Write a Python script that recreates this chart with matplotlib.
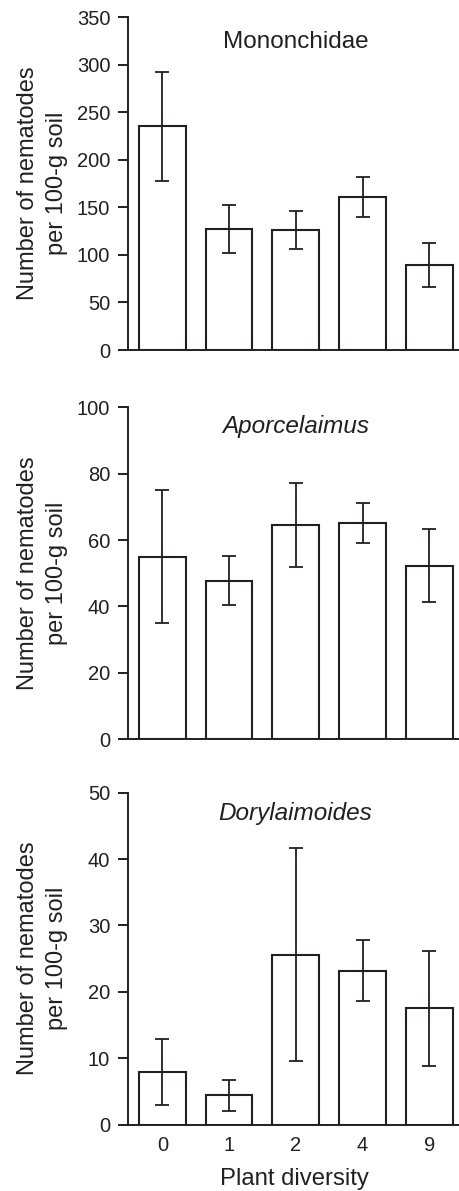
import numpy as np
import matplotlib
matplotlib.use("Agg")
from matplotlib import pyplot as plt

plt.rcParams['font.family'] = ['Liberation Sans', 'DejaVu Sans']

# plant diversity levels (x categories)
diversity = ["0", "1", "2", "4", "9"]

# mean counts and error bars
mono_mean = [235, 127, 126, 161, 89]
mono_err = [57, 25, 20, 21, 23]

apor_mean = [55, 47.8, 64.5, 65.2, 52.3]
apor_err = [20, 7.4, 12.6, 6, 11]

dory_mean = [7.9, 4.4, 25.6, 23.2, 17.5]
dory_err = [5, 2.4, 16, 4.6, 8.7]

titles = ["Mononchidae", "Aporcelaimus", "Dorylaimoides"]
title_style = ["normal", "italic", "italic"]
ymax = [350, 100, 50]
ystep = [50, 20, 10]

ink = "#231f20"

fig = plt.figure(figsize=(4.6, 11.91), dpi=100)

# axes rectangles in figure fractions
boxes = [
    [0.278, 0.7061, 0.722, 0.2796],
    [0.278, 0.3793, 0.722, 0.2788],
    [0.278, 0.0557, 0.722, 0.2788],
]
title_y = [0.907, 0.923, 0.918]

means = [mono_mean, apor_mean, dory_mean]
errs = [mono_err, apor_err, dory_err]

x = np.arange(len(diversity))

for i in range(3):
    ax = fig.add_axes(boxes[i])
    ax.bar(x, means[i], width=0.7, color="white", edgecolor=ink, linewidth=1.5, zorder=2)
    ax.errorbar(x, means[i], yerr=errs[i], fmt="none", ecolor=ink, elinewidth=1.3,
                capsize=4.7, capthick=1.3, zorder=3)

    ax.set_xlim(-0.517, 4.46)
    ax.set_ylim(0, ymax[i])
    ax.set_yticks(np.arange(0, ymax[i] + 1, ystep[i]))

    for s in ["top", "right"]:
        ax.spines[s].set_visible(False)
    for s in ["left", "bottom"]:
        ax.spines[s].set_color(ink)
        ax.spines[s].set_linewidth(1.4)

    ax.tick_params(axis="y", direction="out", length=7.2, width=1.4, color=ink,
                   labelsize=14.5, labelcolor=ink, pad=5.5)
    ax.set_xticks(x)
    if i == 2:
        ax.set_xticklabels(diversity)
        ax.tick_params(axis="x", length=0, labelsize=14.5, labelcolor=ink, pad=8.5)
        ax.set_xlabel("Plant diversity", fontsize=17.2, color=ink, labelpad=9)
    else:
        ax.set_xticklabels([])
        ax.tick_params(axis="x", length=0)

    ax.set_ylabel("Number of nematodes\nper 100-g soil", fontsize=17, color=ink,
                  linespacing=1.4)
    ax.yaxis.set_label_coords(-0.181, 0.5)

    ax.text(0.505, title_y[i], titles[i], transform=ax.transAxes, ha="center",
            va="baseline", fontsize=17.5, style=title_style[i], color=ink)

fig.savefig("out.png", dpi=100)
